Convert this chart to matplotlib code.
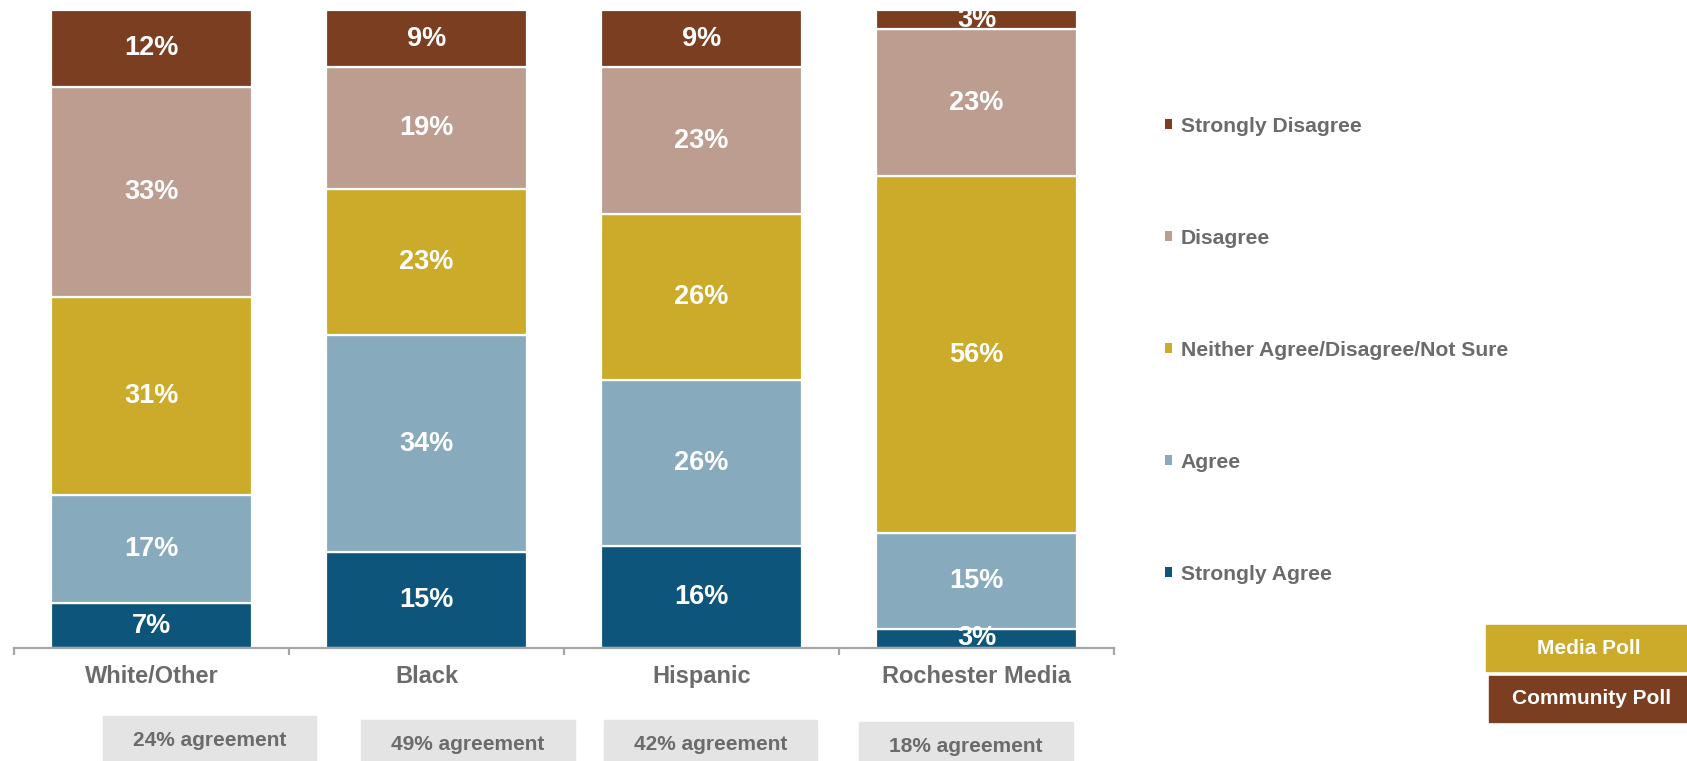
import matplotlib.pyplot as plt
from matplotlib.patches import Patch, Rectangle

plt.rcParams['font.family'] = ['Liberation Sans', 'DejaVu Sans']
plt.rcParams['font.weight'] = 'bold'

groups = ['White/Other', 'Black', 'Hispanic', 'Rochester Media']
# bottom to top
strongly_agree = [7, 15, 16, 3]
agree = [17, 34, 26, 15]
neither = [31, 23, 26, 56]
disagree = [33, 19, 23, 23]
strongly_disagree = [12, 9, 9, 3]

series = [
    ('Strongly Agree', strongly_agree, '#0D557A'),
    ('Agree', agree, '#88AABD'),
    ('Neither Agree/Disagree/Not Sure', neither, '#CBAB29'),
    ('Disagree', disagree, '#BD9D8F'),
    ('Strongly Disagree', strongly_disagree, '#7B3E21'),
]
agreement = [a + b for a, b in zip(strongly_agree, agree)]

grey = '#6B6B6B'
W, H = 1687, 761

fig = plt.figure(figsize=(W / 100, H / 100), dpi=100)
ax = fig.add_axes([14 / W, (H - 648) / H, 1100 / W, 638 / H])

x = list(range(len(groups)))
bottom = [0] * len(groups)
for name, vals, col in series:
    bars = ax.bar(x, vals, bottom=bottom, width=0.73, color=col,
                  edgecolor='white', linewidth=1.6, label=name)
    for rect, v, b in zip(bars, vals, bottom):
        t = ax.text(rect.get_x() + rect.get_width() / 2, b + v / 2, f'{v}%',
                    ha='center', va='center', color='white', fontsize=19.5,
                    fontweight='bold')
        t.set_clip_path(rect)
    bottom = [b + v for b, v in zip(bottom, vals)]

ax.set_xlim(-0.5, 3.5)
ax.set_ylim(0, 100)
for s in ['top', 'left', 'right']:
    ax.spines[s].set_visible(False)
ax.spines['bottom'].set_color('#A6A6A6')
ax.spines['bottom'].set_linewidth(1.6)
ax.set_yticks([])
ax.set_xticks(x)
ax.set_xticklabels(groups, fontsize=17, color=grey, fontweight='bold')
ax.tick_params(axis='x', which='major', length=0, pad=12)
ax.set_xticks([-0.5, 0.5, 1.5, 2.5, 3.5], minor=True)
ax.tick_params(axis='x', which='minor', length=5, width=1.6, color='#A6A6A6')

handles = [Patch(facecolor=c) for _, _, c in series][::-1]
labels = [n for n, _, _ in series][::-1]
fig.legend(handles, labels, loc='upper left', bbox_to_anchor=(1165 / W, (H - 117) / H),
           frameon=False, labelcolor=grey, borderpad=0, borderaxespad=0,
           handlelength=0.35, handleheight=0.35, handletextpad=0.4, labelspacing=4.40,
           prop={'weight': 'bold', 'size': 15.2})

# agreement boxes under the bars
boxes = [(103, 316, 716), (361, 575, 720), (604, 817, 720), (859, 1073, 722)]
for (x0, x1, top), a in zip(boxes, agreement):
    fig.patches.append(Rectangle((x0 / W, 0), (x1 - x0) / W, (H - top) / H,
                                 transform=fig.transFigure, color='#E4E4E4', zorder=0))
    fig.text((x0 + x1) / 2 / W, (H - top - 25) / H, f'{a}% agreement',
             ha='center', va='center', fontsize=15, color=grey, fontweight='bold')

# poll tags
fig.patches.append(Rectangle((1486 / W, (H - 671) / H), 201 / W, 46 / H,
                             transform=fig.transFigure, color='#CBAB29'))
fig.patches.append(Rectangle((1489 / W, (H - 722) / H), 198 / W, 46 / H,
                             transform=fig.transFigure, color='#7B3E21'))
fig.text(1589 / W, (H - 649) / H, 'Media Poll', ha='center', va='center',
         fontsize=15, color='white', fontweight='bold')
fig.text(1592 / W, (H - 699) / H, 'Community Poll', ha='center', va='center',
         fontsize=15, color='white', fontweight='bold')

fig.savefig('out.png', dpi=100)
